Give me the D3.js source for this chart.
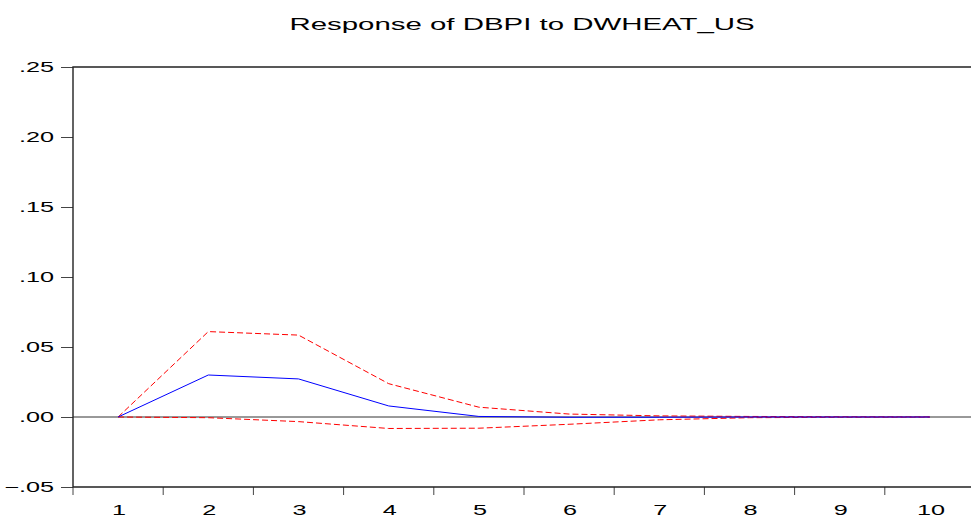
<!DOCTYPE html>
<html>
<head>
<meta charset="utf-8">
<script src="https://cdn.jsdelivr.net/npm/d3@7"></script>
<style>
  body { margin: 0; background: #fff; }
  svg { display: block; }
</style>
</head>
<body>
<svg id="chart"></svg>
<script>
// periods on the x axis
const periods = [1, 2, 3, 4, 5, 6, 7, 8, 9, 10];
// impulse response (blue, solid)
const response = [0.0, 0.0300, 0.0272, 0.0079, 0.0004, -0.0002, -0.0002, 0.0000, 0.0000, 0.0000];
// +/- 2 S.E. bands (red, dashed)
const upperBand = [0.0, 0.0610, 0.0585, 0.0238, 0.0070, 0.0021, 0.0008, 0.0004, 0.0002, 0.0001];
const lowerBand = [0.0, -0.0005, -0.0033, -0.0082, -0.0080, -0.0052, -0.0020, -0.0005, -0.0002, -0.0001];
const yTicks = [-0.05, 0.00, 0.05, 0.10, 0.15, 0.20, 0.25];
const title = "Response of DBPI to DWHEAT_US";

const width = 971, height = 518;
const sx = 1.74; // horizontal stretch of the text in the picture
const font = "'Liberation Sans', Arial, sans-serif";
const plotLeft = 73, plotTop = 67, plotRight = 975, plotBottom = 487;

const svg = d3.select("#chart").attr("width", width).attr("height", height);

const x = d3.scaleBand().domain(periods).range([plotLeft, plotRight]).padding(0);
const y = d3.scaleLinear().domain([-0.05, 0.25]).range([plotBottom, plotTop]);
const fmt = v => d3.format(".2f")(v).replace("0.", ".");

// title
svg.append("text")
    .attr("transform", `translate(522,30) scale(1.73,1)`)
    .attr("text-anchor", "middle")
    .attr("font-family", font)
    .attr("font-size", 17)
    .attr("fill", "#000")
    .text(title);

// zero line
svg.append("line")
    .attr("x1", plotLeft).attr("x2", plotRight)
    .attr("y1", y(0)).attr("y2", y(0))
    .attr("stroke", "#333").attr("stroke-width", 1);

// y axis
const yAxis = svg.append("g")
    .attr("transform", `translate(${plotLeft},0)`)
    .call(d3.axisLeft(y).tickValues(yTicks).tickSize(12).tickSizeOuter(0).tickFormat(fmt));
yAxis.select(".domain").remove();
yAxis.selectAll(".tick line").attr("stroke", "#444").attr("stroke-width", 1);
yAxis.selectAll(".tick text")
    .attr("x", 0)
    .attr("transform", `translate(-19,0) scale(${sx},1)`)
    .attr("dy", "0.34em")
    .attr("font-family", font)
    .attr("font-size", 14.5)
    .attr("fill", "#000");

// x axis: ticks sit on band edges, labels in band centres
const xg = svg.append("g");
xg.selectAll("line.tick")
    .data(periods)
    .join("line")
    .attr("class", "tick")
    .attr("x1", d => x(d)).attr("x2", d => x(d))
    .attr("y1", plotBottom).attr("y2", plotBottom + 8)
    .attr("stroke", "#444").attr("stroke-width", 1);
xg.selectAll("text")
    .data(periods)
    .join("text")
    .attr("transform", d => `translate(${x(d) + x.bandwidth() / 2 + 1},515) scale(${sx},1)`)
    .attr("text-anchor", "middle")
    .attr("font-family", font)
    .attr("font-size", 14.5)
    .attr("fill", "#000")
    .text(d => d);

// frame
svg.append("path")
    .attr("d", `M${plotLeft},${plotBottom}V${plotTop}H${plotRight}V${plotBottom}Z`)
    .attr("fill", "none")
    .attr("stroke", "#222")
    .attr("stroke-width", 1.4);

// series
const px = d => x(d) + x.bandwidth() / 2;
const line = d3.line().x((d, i) => px(periods[i])).y(d => y(d));

svg.append("path")
    .datum(upperBand)
    .attr("d", line)
    .attr("fill", "none")
    .attr("stroke", "#ff0000")
    .attr("stroke-width", 1)
    .attr("stroke-dasharray", "6,3");
svg.append("path")
    .datum(lowerBand)
    .attr("d", line)
    .attr("fill", "none")
    .attr("stroke", "#ff0000")
    .attr("stroke-width", 1)
    .attr("stroke-dasharray", "6,3");
svg.append("path")
    .datum(response)
    .attr("d", line)
    .attr("fill", "none")
    .attr("stroke", "#0000ff")
    .attr("stroke-width", 1);
</script>
</body>
</html>
